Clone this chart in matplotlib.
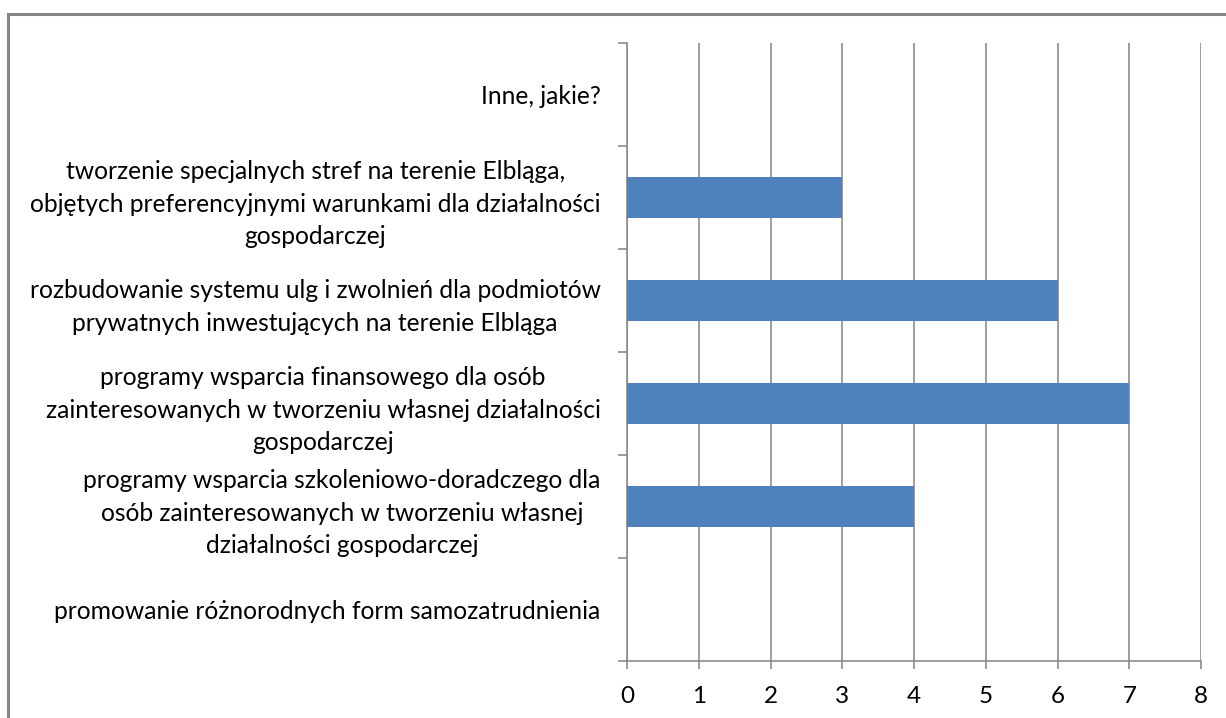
import matplotlib.pyplot as plt
from matplotlib.patches import Rectangle
from matplotlib.ticker import FixedLocator

# kategorie od góry do dołu
categories = [
    "Inne, jakie?",
    "tworzenie specjalnych stref na terenie Elbląga,\nobjętych preferencyjnymi warunkami dla działalności\ngospodarczej",
    "rozbudowanie systemu ulg i zwolnień dla podmiotów\nprywatnych inwestujących na terenie Elbląga",
    "programy wsparcia finansowego dla osób\nzainteresowanych w tworzeniu własnej działalności\ngospodarczej",
    "programy wsparcia szkoleniowo-doradczego dla\nosób zainteresowanych w tworzeniu własnej\ndziałalności gospodarczej",
    "promowanie różnorodnych form samozatrudnienia",
]
values = [0, 3, 6, 7, 4, 0]
x_ticks = [0, 1, 2, 3, 4, 5, 6, 7, 8]

bar_color = "#4F81BD"
grid_color = "#8C8C8C"

plt.rcParams['font.family'] = ['Lato', 'DejaVu Sans']

fig = plt.figure(figsize=(12.26, 7.18), dpi=100)
ax = fig.add_axes([627 / 1226, 1 - 660.7 / 718, (1201 - 627) / 1226, (660.7 - 43) / 718])

n = len(categories)
pos = [n - 1 - i for i in range(n)]
ax.barh(pos, values, height=0.4, color=bar_color, zorder=3)

ax.set_xlim(0, 8)
ax.set_ylim(-0.5, n - 0.5)
ax.set_xticks(x_ticks)
ax.set_xticklabels([str(v) for v in x_ticks], fontsize=17.5)
ax.xaxis.grid(True, color=grid_color, linewidth=1.2, zorder=0)

ax.set_yticks(pos)
ax.set_yticklabels(categories, fontsize=17.7, linespacing=1.5)
ax.yaxis.set_minor_locator(FixedLocator([i - 0.5 for i in range(n + 1)]))
ax.tick_params(axis='y', which='major', length=0, pad=19)
ax.tick_params(axis='y', which='minor', length=6.5, width=1.2, color=grid_color, direction='out')
ax.tick_params(axis='x', length=6, width=1.2, color=grid_color, pad=12)
for t in ax.get_yticklabels():
    t.set_multialignment('center')

for side in ['top', 'right']:
    ax.spines[side].set_visible(False)
for side in ['left', 'bottom']:
    ax.spines[side].set_color(grid_color)
    ax.spines[side].set_linewidth(1.2)

# ramka wykresu (widoczna tylko z lewej i u góry)
fig.patches.append(Rectangle((8 / 1226, -0.1), 1.2, 1 - 14 / 718 + 0.1,
                             transform=fig.transFigure, fill=False,
                             edgecolor="#868686", linewidth=2.2))

fig.savefig("out.png", dpi=100)
